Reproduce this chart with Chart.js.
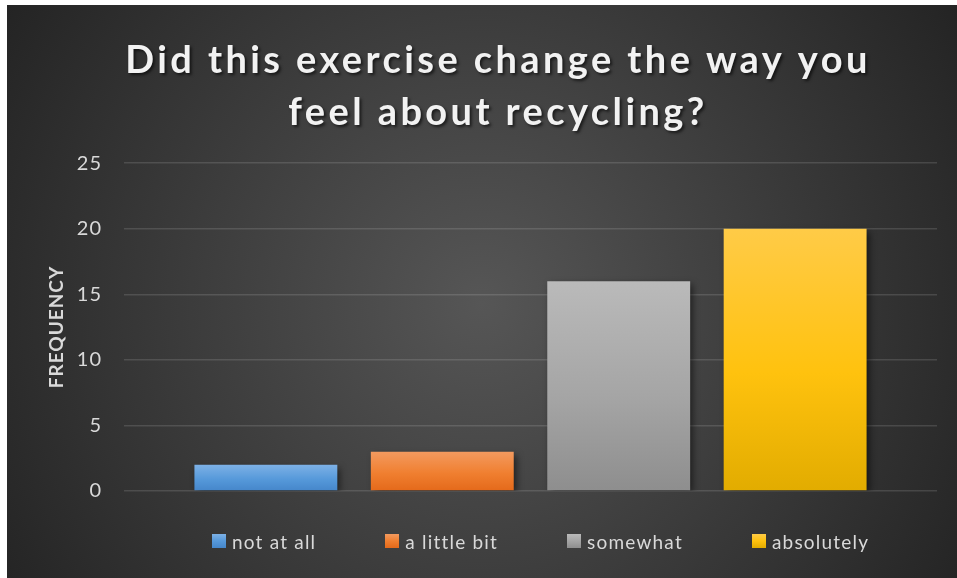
<!DOCTYPE html>
<html>
<head>
<meta charset="utf-8">
<script src="https://cdn.jsdelivr.net/npm/chart.js@4"></script>
<style>
  body { margin: 0; background: #fff; }
  #wrap {
    position: absolute; left: 7px; top: 5px; width: 950px; height: 573px;
    background: radial-gradient(circle 560px at 50% 52%, #565656 0%, #242424 100%);
  }
  #legend {
    position: absolute; left: 205px; top: 525px; display: flex; gap: 69px;
    font: 19px Lato, sans-serif; letter-spacing: 1.2px; color: #d9d9d9;
  }
  #legend .item { display: flex; align-items: center; height: 22px; }
  #legend .box { width: 14px; height: 14px; margin-right: 6px; }
</style>
</head>
<body>
<div id="wrap">
  <canvas id="recyclingChart" width="950" height="573"></canvas>
  <div id="legend"></div>
</div>
<script>
// Survey answers and how many picked each one
const responses = ['not at all', 'a little bit', 'somewhat', 'absolutely'];
const frequency = [2, 3, 16, 20];
const yMax = 25;
const yStep = 5;

// Gradient stops for every bar (top, middle, bottom)
const topColors = ['#7db1e6', '#f39a5f', '#bababa', '#ffcb47'];
const midColors = ['#5699da', '#f07f30', '#a5a5a5', '#ffc20e'];
const bottomColors = ['#4586ca', '#e4691a', '#8e8e8e', '#e2ac00'];

function barFill(i) {
    return (c) => {
        const chart = c.chart;
        const y = chart.scales.y;
        if (!chart.chartArea || !y || c.type !== 'data') return midColors[i];
        const g = chart.ctx.createLinearGradient(0, y.getPixelForValue(c.raw), 0, y.getPixelForValue(0));
        g.addColorStop(0, topColors[i]);
        g.addColorStop(0.55, midColors[i]);
        g.addColorStop(1, bottomColors[i]);
        return g;
    };
}

// Spaced-out text like the original + shadow under bars
const stylePlugin = {
    id: 'style',
    afterInit(chart) {
        chart.ctx.letterSpacing = '1px';
        const title = chart.titleBlock;
        const draw = title.draw;
        title.draw = function () {
            const ctx = chart.ctx;
            ctx.save();
            ctx.letterSpacing = '3.4px';
            ctx.shadowColor = 'rgba(0,0,0,0.6)';
            ctx.shadowOffsetX = 2;
            ctx.shadowOffsetY = 2;
            ctx.shadowBlur = 3;
            ctx.translate(26, 0);
            draw.call(this);
            ctx.restore();
        };
    },
    beforeDatasetsDraw(chart) {
        const ctx = chart.ctx;
        ctx.save();
        ctx.shadowColor = 'rgba(0,0,0,0.55)';
        ctx.shadowOffsetX = 3;
        ctx.shadowOffsetY = 3;
        ctx.shadowBlur = 7;
    },
    afterDatasetsDraw(chart) {
        chart.ctx.restore();
    }
};

const ctx = document.getElementById('recyclingChart').getContext('2d');
const recyclingChart = new Chart(ctx, {
    type: 'bar',
    data: {
        labels: [''],
        datasets: responses.map((label, i) => ({
            label: label,
            data: [frequency[i]],
            backgroundColor: barFill(i),
            borderWidth: 0
        }))
    },
    options: {
        responsive: false,
        animation: false,
        categoryPercentage: 0.868,
        barPercentage: 0.81,
        layout: { padding: { left: 0, right: 20, top: 0, bottom: 87 } },
        plugins: {
            legend: { display: false },
            tooltip: { enabled: false },
            title: {
                display: true,
                text: ['Did this exercise change the way you', 'feel about recycling?'],
                color: '#f2f2f2',
                font: { family: 'Lato', size: 38, weight: 'bold', lineHeight: 1.37 },
                padding: { top: 30, bottom: 24 }
            }
        },
        scales: {
            x: { display: false },
            y: {
                min: 0,
                max: yMax,
                ticks: {
                    stepSize: yStep,
                    color: '#d9d9d9',
                    padding: 22,
                    font: { family: 'Lato', size: 20 }
                },
                grid: { color: 'rgba(255,255,255,0.13)', lineWidth: 1.5, drawTicks: false },
                border: { display: false },
                title: {
                    display: true,
                    text: 'FREQUENCY',
                    color: '#d9d9d9',
                    font: { family: 'Lato', size: 19, weight: 'bold' },
                    padding: { top: 38, bottom: 0 }
                },
                afterFit(scale) {
                    scale.width = 117;
                }
            }
        }
    },
    plugins: [stylePlugin]
});

// Legend built from the same arrays
const legend = document.getElementById('legend');
responses.forEach((label, i) => {
    const item = document.createElement('div');
    item.className = 'item';
    const box = document.createElement('span');
    box.className = 'box';
    box.style.background = `linear-gradient(${topColors[i]}, ${midColors[i]}, ${bottomColors[i]})`;
    item.appendChild(box);
    item.appendChild(document.createTextNode(label));
    legend.appendChild(item);
});
</script>
</body>
</html>
